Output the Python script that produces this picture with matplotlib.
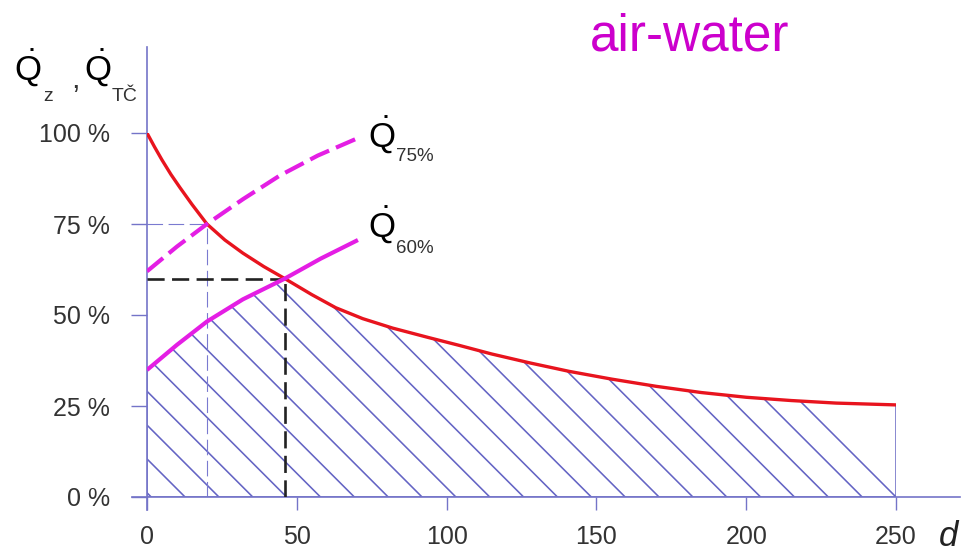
import numpy as np
import matplotlib
matplotlib.use("Agg")
import matplotlib.pyplot as plt
from matplotlib.patches import Polygon

# heat demand curve Q_z over days d (percent of design load)
red_d = [0, 2.5, 5, 8, 11, 15, 20, 26, 32, 39, 46, 55, 63, 72, 82, 94, 104,
         115, 128, 141, 155, 170, 185, 200, 215, 230, 250]
red_q = [100, 96.2, 92.6, 88.6, 85.0, 80.4, 75.0, 70.6, 67.0, 63.3, 60.0, 55.6,
         52.0, 49.0, 46.4, 43.8, 41.7, 39.3, 36.8, 34.5, 32.4, 30.4, 28.7, 27.4,
         26.5, 25.8, 25.3]

# heat pump output, unit sized to 75 % of design load (dashed)
hp75_d = [0, 10, 20, 32, 44.3, 57, 70.4]
hp75_q = [62, 68.8, 75, 81.8, 88.3, 93.8, 98.6]

# heat pump output, unit sized to 60 % of design load (solid)
hp60_d = [0, 10, 20, 32, 46, 58, 70.4]
hp60_q = [34.9, 41.8, 48.2, 54.3, 60, 65.5, 70.6]

# balance points (days, percent)
bp75 = (20, 75)
bp60 = (46, 60)

x_ticks = [0, 50, 100, 150, 200, 250]
x_ticklabels = ["0", "50", "100", "150", "200", "250"]
y_ticks = [0, 25, 50, 75, 100]
y_ticklabels = ["0 %", "25 %", "50 %", "75 %", "100 %"]

W, H = 973, 556
AXIS_C = "#7474c8"
RED = "#e8141e"
MAG = "#e41ee4"
SANS = ["Liberation Sans", "DejaVu Sans"]

plt.rcParams["mathtext.fontset"] = "custom"
plt.rcParams["mathtext.rm"] = "Liberation Sans"
plt.rcParams["mathtext.it"] = "Liberation Sans:italic"

fig = plt.figure(figsize=(W / 100, H / 100), dpi=100)
fig.patch.set_facecolor("white")


def fx(px):
    return px / W


def fy(py):
    return 1 - py / H


ax = fig.add_axes([fx(147), fy(497), (896 - 147) / W, (497 - 133) / H])
ax.set_xlim(0, 250)
ax.set_ylim(0, 100)
ax.patch.set_visible(False)
for s in ax.spines.values():
    s.set_visible(False)

# axis lines, extended past the plotting range
ax.plot([-5, 271.5], [0, 0], color=AXIS_C, lw=1.2, clip_on=False, zorder=3)
ax.plot([0, 0], [-3.6, 123.6], color=AXIS_C, lw=1.2, clip_on=False, zorder=3)

ax.set_xticks(x_ticks)
ax.set_xticklabels(x_ticklabels, fontfamily=SANS)
ax.set_yticks(y_ticks)
ax.set_yticklabels(y_ticklabels, fontfamily=SANS)
ax.tick_params(axis="x", direction="out", length=9.4, width=1.0, color=AXIS_C,
               pad=10.5, labelsize=18, labelcolor="#333333")
ax.tick_params(axis="y", direction="out", length=11.5, width=1.0, color=AXIS_C,
               pad=15, labelsize=18, labelcolor="#333333")

# hatched area: covered by the heat pump (60 %) up to the balance point, then by demand
up_d = [d for d in hp60_d if d <= bp60[0]] + [d for d in red_d if d > bp60[0]]
up_q = [q for d, q in zip(hp60_d, hp60_q) if d <= bp60[0]] + \
       [q for d, q in zip(red_d, red_q) if d > bp60[0]]
verts = [(0, 0)] + list(zip(up_d, up_q)) + [(red_d[-1], 0)]
area = Polygon(verts, closed=True, facecolor="none", edgecolor=AXIS_C, lw=1.2, zorder=1)
ax.add_patch(area)

# diagonal hatch lines at 45 degrees on screen
bb = ax.get_position()
sx = bb.width * W / 250.0
sy = bb.height * H / 100.0
step = 11.3
x0s = np.arange(red_d[-1], 0, -step)
x0s = np.concatenate([x0s, x0s[-1] - step * np.arange(1, 12)])
for x0 in x0s:
    xs = np.array([x0 - 150, x0])
    ys = (sx / sy) * (x0 - xs)
    ln, = ax.plot(xs, ys, color="#6464c4", lw=1.15, zorder=1)
    ln.set_clip_path(area)

# balance point guides
ax.plot([0, bp75[0]], [bp75[1], bp75[1]], color="#7a7ad0", lw=0.8,
        linestyle=(0, (14, 5)), zorder=2)
ax.plot([bp75[0], bp75[0]], [0, bp75[1]], color="#7a7ad0", lw=0.8,
        linestyle=(0, (14, 5)), zorder=2)
ax.plot([0, bp60[0]], [bp60[1], bp60[1]], color="#222222", lw=1.9,
        linestyle=(0, (6.5, 2.8)), zorder=4)
ax.plot([bp60[0], bp60[0]], [0, bp60[1]], color="#222222", lw=1.9,
        linestyle=(0, (6.5, 2.8)), zorder=4)

# curves
ax.plot(red_d, red_q, color=RED, lw=2.4, zorder=5, solid_capstyle="butt",
        solid_joinstyle="round")
ax.plot(hp75_d, hp75_q, color=MAG, lw=3.0, linestyle=(0, (5, 1.8)), zorder=5)
ax.plot(hp60_d, hp60_q, color=MAG, lw=3.0, zorder=5, solid_capstyle="butt",
        solid_joinstyle="round")

# curve labels
fig.text(fx(368), fy(147), r"$\dot{\mathrm{Q}}$", fontsize=25, color="black",
         va="baseline", ha="left")
fig.text(fx(396), fy(161), "75%", fontsize=13.5, color="#333333",
         family=SANS, va="baseline", ha="left")
fig.text(fx(368), fy(237), r"$\dot{\mathrm{Q}}$", fontsize=25, color="black",
         va="baseline", ha="left")
fig.text(fx(396), fy(253), "60%", fontsize=13.5, color="#333333",
         family=SANS, va="baseline", ha="left")

# y axis label
fig.text(fx(14), fy(80), r"$\dot{\mathrm{Q}}$", fontsize=25, color="black",
         va="baseline", ha="left")
fig.text(fx(43), fy(101), "z", fontsize=14, color="#333333", family=SANS,
         va="baseline", ha="left")
fig.text(fx(71), fy(88), ",", fontsize=22, color="#333333", family=SANS,
         va="baseline", ha="left")
fig.text(fx(84), fy(80), r"$\dot{\mathrm{Q}}$", fontsize=25, color="black",
         va="baseline", ha="left")
fig.text(fx(112), fy(101), "TČ", fontsize=14, color="#333333", family=SANS,
         va="baseline", ha="left")

# x axis label
fig.text(fx(949), fy(536), "d", fontsize=25, style="italic", color="#222222",
         family=SANS, va="center", ha="center")

# title
fig.text(fx(690), fy(37), "air-water", fontsize=37, color="#cc00cc",
         family=SANS, va="center", ha="center")

fig.savefig("out.png", dpi=100, facecolor="white")
